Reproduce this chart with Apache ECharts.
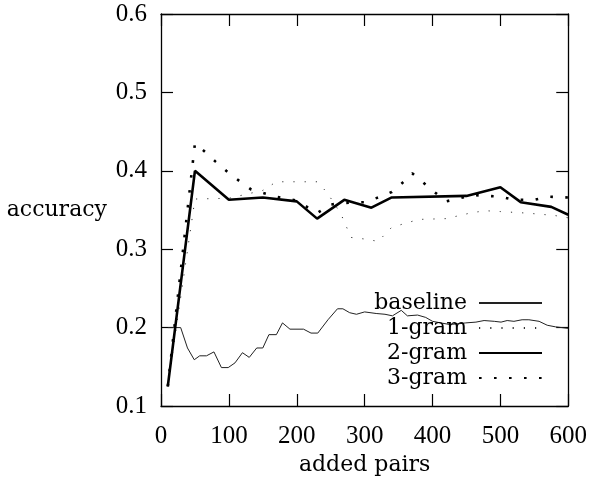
<!DOCTYPE html>
<html>
<head>
<meta charset="utf-8">
<script src="https://cdn.jsdelivr.net/npm/echarts@6/dist/echarts.min.js"></script>
<style>html,body{margin:0;padding:0;background:#fff}#c{width:590px;height:486px}</style>
</head>
<body>
<div id="c"></div>
<script>
const xTicks = [0, 100, 200, 300, 400, 500, 600];
const yTicks = [0.1, 0.2, 0.3, 0.4, 0.5, 0.6];
const seriesNames = ['baseline', '1-gram', '2-gram', '3-gram'];

const baselineX = [10,20,29,39,49,57,67,78,89,99,109,120,130,141,150,159,170,179,190,210,221,231,246,260,268,278,288,300,317,330,341,354,363,378,390,400,412,425,440,449,464,476,491,501,510,520,532,542,557,569,581,600];
const baselineY = [0.2,0.2,0.2,0.174,0.159,0.164,0.164,0.169,0.149,0.149,0.155,0.168,0.162,0.174,0.174,0.191,0.191,0.206,0.198,0.198,0.193,0.193,0.210,0.224,0.224,0.219,0.217,0.220,0.218,0.217,0.215,0.222,0.215,0.216,0.213,0.208,0.206,0.204,0.205,0.206,0.207,0.209,0.208,0.207,0.209,0.208,0.210,0.210,0.208,0.203,0.201,0.199];

const gram1X = [10,50,100,150,170,230,245,265,280,300,320,340,360,380,420,440,460,480,500,540,580,600];
const gram1Y = [0.125,0.364,0.365,0.375,0.386,0.386,0.372,0.345,0.315,0.313,0.310,0.328,0.333,0.338,0.339,0.343,0.347,0.349,0.348,0.346,0.343,0.340];

const gram2X = [10,50,100,150,200,230,270,310,340,450,500,530,575,600];
const gram2Y = [0.125,0.400,0.363,0.366,0.361,0.339,0.363,0.353,0.366,0.368,0.379,0.360,0.354,0.344];

const gram3X = [10,50,65,80,100,117,133,170,200,230,250,270,300,320,340,355,370,385,400,420,440,460,500,520,550,570,600];
const gram3Y = [0.125,0.435,0.424,0.412,0.397,0.386,0.376,0.367,0.362,0.346,0.357,0.359,0.360,0.366,0.373,0.384,0.397,0.386,0.375,0.361,0.365,0.369,0.367,0.363,0.363,0.367,0.366];

function pairs(xs, ys) { return xs.map((x, i) => [x, ys[i]]); }

const numFont = 'Liberation Serif';
const txtFont = 'DejaVu Serif';
function axisLine() { return { show: true, onZero: false, lineStyle: { color: '#000', width: 1.3 } }; }
function tickIn() { return { show: true, inside: true, length: 12, lineStyle: { color: '#000', width: 1.2 } }; }

const chart = echarts.init(document.getElementById('c'), null, { renderer: 'canvas' });

const legendTops = [292, 317, 342, 367];
const legends = seriesNames.map((n, i) => ({
  data: [n],
  orient: 'vertical',
  align: 'right',
  right: 47,
  top: legendTops[i],
  padding: 0,
  itemWidth: 63,
  itemHeight: 10,
  selectedMode: false,
  formatter: '{name} ',
  itemStyle: { opacity: 0 },
  textStyle: { fontFamily: txtFont, fontSize: 22, color: '#000' }
}));

chart.setOption({
  animation: false,
  backgroundColor: '#fff',
  grid: { left: 161, right: 20, top: 14, bottom: 80, containLabel: false },
  legend: legends,
  xAxis: [
    {
      type: 'value', min: xTicks[0], max: xTicks[xTicks.length - 1], interval: 100, position: 'bottom',
      axisLine: axisLine(), axisTick: tickIn(), splitLine: { show: false },
      axisLabel: { margin: 18, fontFamily: numFont, fontSize: 25, color: '#000' },
      name: 'added pairs', nameLocation: 'middle', nameGap: 39,
      nameTextStyle: { fontFamily: txtFont, fontSize: 22, color: '#000' }
    },
    {
      type: 'value', min: xTicks[0], max: xTicks[xTicks.length - 1], interval: 100, position: 'top',
      axisLine: axisLine(), axisTick: tickIn(), splitLine: { show: false }, axisLabel: { show: false }
    }
  ],
  yAxis: [
    {
      type: 'value', min: yTicks[0], max: yTicks[yTicks.length - 1], interval: 0.1, position: 'left',
      axisLine: axisLine(), axisTick: tickIn(), splitLine: { show: false },
      axisLabel: { margin: 14, fontFamily: numFont, fontSize: 25, color: '#000', formatter: v => v.toFixed(1) },
      name: 'accuracy', nameLocation: 'middle', nameRotate: 0, nameGap: 54,
      nameTextStyle: { fontFamily: txtFont, fontSize: 22, color: '#000' }
    },
    {
      type: 'value', min: yTicks[0], max: yTicks[yTicks.length - 1], interval: 0.1, position: 'right',
      axisLine: axisLine(), axisTick: tickIn(), splitLine: { show: false }, axisLabel: { show: false }
    }
  ],
  series: [
    {
      name: seriesNames[0], type: 'line', data: pairs(baselineX, baselineY), symbol: 'none',
      lineStyle: { color: '#222', width: 1 }, itemStyle: { color: '#222' }
    },
    {
      name: seriesNames[1], type: 'line', data: pairs(gram1X, gram1Y), symbol: 'none',
      lineStyle: { color: '#333', width: 1, type: [1.2, 10] }, itemStyle: { color: '#333' }
    },
    {
      name: seriesNames[2], type: 'line', data: pairs(gram2X, gram2Y), symbol: 'none',
      lineStyle: { color: '#000', width: 2.6 }, itemStyle: { color: '#000' }
    },
    {
      name: seriesNames[3], type: 'line', data: pairs(gram3X, gram3Y), symbol: 'none',
      lineStyle: { color: '#000', width: 2.6, type: [2.6, 12.4] }, itemStyle: { color: '#000' }
    }
  ]
});
</script>
</body>
</html>
